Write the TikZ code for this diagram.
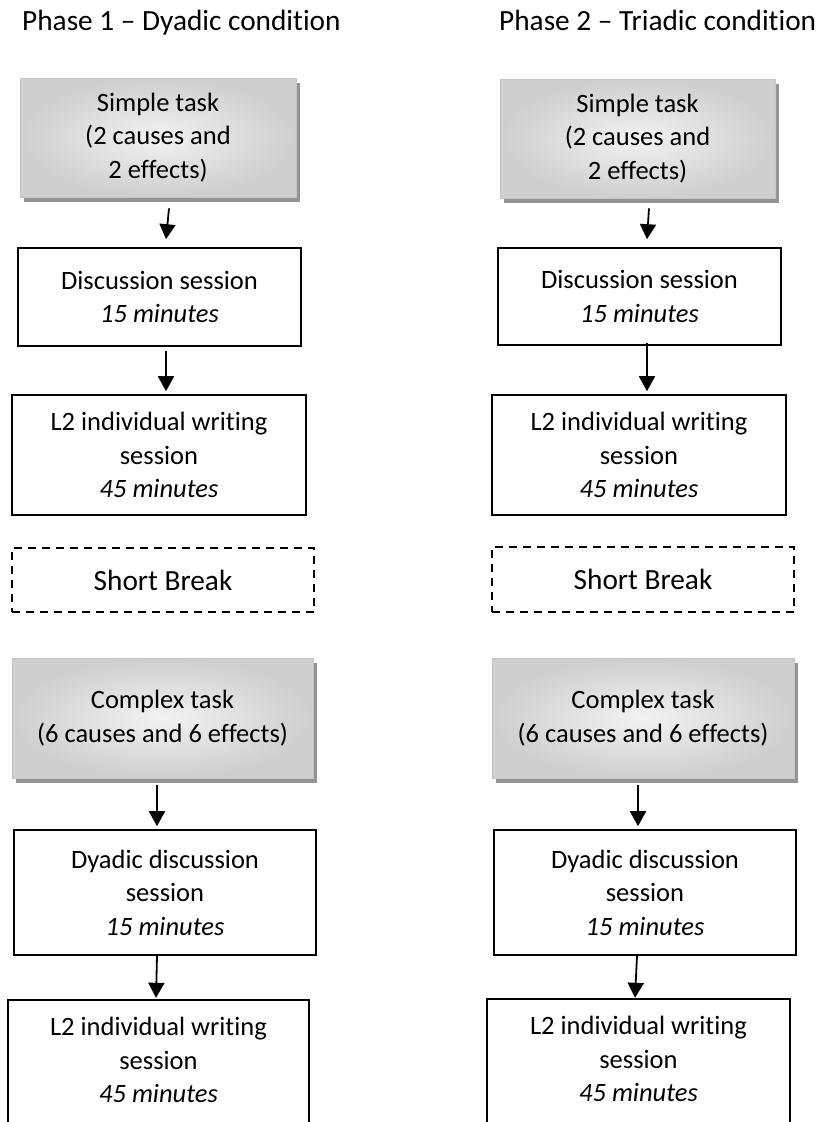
\documentclass[tikz,border=0pt]{standalone}
\usepackage{fontspec}
\setmainfont[Ligatures={NoCommon}]{Carlito}
\usetikzlibrary{arrows.meta,shadows}
\begin{document}
\begin{tikzpicture}[x=1pt,y=-1pt,
  every node/.style={font=\fontsize{26.5}{33.5}\selectfont, align=center, inner sep=0pt},
  bigtext/.style={font=\fontsize{29.3}{36}\selectfont},
  plainbox/.style={draw=black, line width=1.6pt, fill=white},
  openline/.style={draw=black, line width=1.6pt},
  taskbox/.style={draw=gray!45, line width=0.8pt, inner color=gray!10, outer color=gray!38,
    general shadow={fill=gray!85, shadow xshift=4pt, shadow yshift=-5pt}},
  breakbox/.style={draw=black, line width=2pt, dash pattern=on 8pt off 6pt, bigtext},
  arr/.style={line width=1.8pt, -{Triangle[width=16pt,length=15pt]}},
  title/.style={anchor=base west, bigtext}]
\useasboundingbox (0,0) rectangle (822,1122);

% titles
\node[title] (T1) at (22,30) {Phase 1 – Dyadic condition};
\node[title] (T2) at (499,30) {Phase 2 – Triadic condition};

% left column
\node[taskbox, minimum width=276pt, minimum height=119pt] (A1) at (158,137.5) {Simple task\\(2 causes and\\2 effects)};
\node[plainbox, minimum width=283pt, minimum height=98pt] (A2) at (159.5,297) {Discussion session\\\textit{15 minutes}};
\node[plainbox, minimum width=294pt, minimum height=120pt] (A3) at (159,455) {L2 individual writing\\session\\\textit{45 minutes}};
\node[breakbox, minimum width=302pt, minimum height=64pt] (AB) at (163,580) {Short Break};
\node[taskbox, minimum width=301pt, minimum height=120pt] (A4) at (162.5,718) {Complex task\\(6 causes and 6 effects)};
\node[plainbox, minimum width=302pt, minimum height=125pt] (A5) at (165,892.5) {Dyadic discussion\\session\\\textit{15 minutes}};
\node[minimum width=301pt, minimum height=120pt] (A6) at (158.5,1060) {L2 individual writing\\session\\\textit{45 minutes}};
\draw[openline] ([yshift=-80pt]A6.south west) -- (A6.north west) -- (A6.north east) -- ([yshift=-80pt]A6.south east);

% right column
\node[taskbox, minimum width=275pt, minimum height=119pt] (B1) at (637.5,138.5) {Simple task\\(2 causes and\\2 effects)};
\node[plainbox, minimum width=283pt, minimum height=97pt] (B2) at (639.5,296.5) {Discussion session\\\textit{15 minutes}};
\node[plainbox, minimum width=294pt, minimum height=120pt] (B3) at (639,455) {L2 individual writing\\session\\\textit{45 minutes}};
\node[breakbox, minimum width=302pt, minimum height=65pt] (BB) at (643,579.5) {Short Break};
\node[taskbox, minimum width=302pt, minimum height=120pt] (B4) at (643,718) {Complex task\\(6 causes and 6 effects)};
\node[plainbox, minimum width=302pt, minimum height=125pt] (B5) at (645,892.5) {Dyadic discussion\\session\\\textit{15 minutes}};
\node[minimum width=303pt, minimum height=120pt] (B6) at (638.5,1059) {L2 individual writing\\session\\\textit{45 minutes}};
\draw[openline] ([yshift=-80pt]B6.south west) -- (B6.north west) -- (B6.north east) -- ([yshift=-80pt]B6.south east);

% arrows left
\draw[arr] ([xshift=11pt,yshift=-11pt]A1.south) -- ([xshift=6.5pt,yshift=8pt]A2.north);
\draw[arr] ([xshift=6.5pt,yshift=-4pt]A2.south) -- ([xshift=7pt,yshift=3pt]A3.north);
\draw[arr] ([xshift=-5.5pt,yshift=-7pt]A4.south) -- ([xshift=-8pt,yshift=3pt]A5.north);
\draw[arr] ([xshift=-8pt]A5.south) -- ([xshift=-2.5pt,yshift=2pt]A6.north);

% arrows right
\draw[arr] ([xshift=11.5pt,yshift=-10pt]B1.south) -- ([xshift=7.5pt,yshift=8pt]B2.north);
\draw[arr] ([xshift=7.5pt,yshift=3pt]B2.south) -- ([xshift=8pt,yshift=3pt]B3.north);
\draw[arr] ([xshift=-5pt,yshift=-7pt]B4.south) -- ([xshift=-7pt,yshift=3pt]B5.north);
\draw[arr] ([xshift=-8pt]B5.south) -- ([xshift=-3.5pt,yshift=1pt]B6.north);
\end{tikzpicture}
\end{document}
